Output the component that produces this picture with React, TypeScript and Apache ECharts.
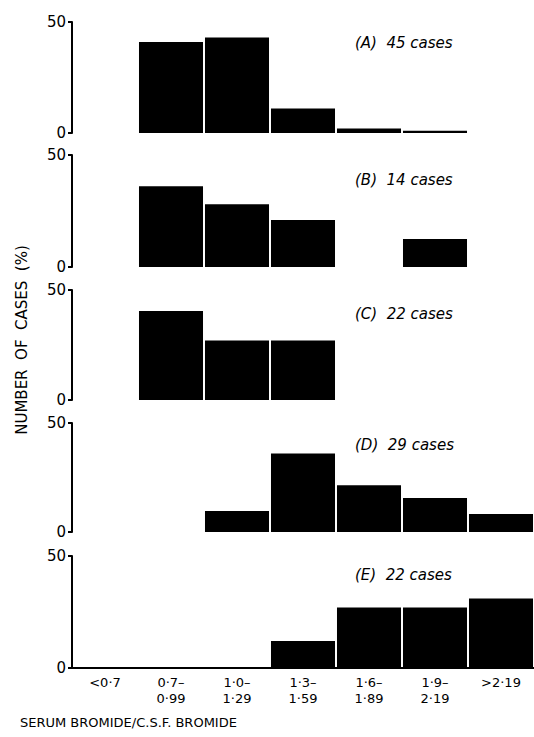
import React, { useEffect, useRef } from "react";
import * as echarts from "echarts";

const categories = ["<0·7", "0·7–\n0·99", "1·0–\n1·29", "1·3–\n1·59", "1·6–\n1·89", "1·9–\n2·19", ">2·19"];
const seriesA = [0, 41, 43, 11, 2, 1, 0];
const seriesB = [0, 36, 28, 21, 0, 12.5, 0];
const seriesC = [0, 40.5, 27, 27, 0, 0, 0];
const seriesD = [0, 0, 9.6, 36, 21.5, 15.6, 8.3];
const seriesE = [0, 0, 0, 12, 27, 27, 31];
const panelLabels = ["(A)  45 cases", "(B)  14 cases", "(C)  22 cases", "(D)  29 cases", "(E)  22 cases"];
const allSeries = [seriesA, seriesB, seriesC, seriesD, seriesE];

const grids = [
  { top: 22, height: 111 },
  { top: 155, height: 112 },
  { top: 290, height: 110 },
  { top: 423, height: 109 },
  { top: 556, height: 112 },
];
const labelY = [45, 182, 316, 447, 577];
const font = "'DejaVu Sans', sans-serif";

export default function App() {
  const ref = useRef<HTMLDivElement>(null);
  useEffect(() => {
    const chart = echarts.init(ref.current!, null, { renderer: "svg" });
    chart.setOption({
      animation: false,
      backgroundColor: "#fff",
      grid: grids.map((g) => ({ left: 72, width: 462, top: g.top, height: g.height })),
      xAxis: grids.map((_, i) => ({
        type: "category",
        gridIndex: i,
        data: categories,
        show: i === 4,
        axisLine: { lineStyle: { color: "#000", width: 2 } },
        axisTick: { inside: true, length: 5, lineStyle: { color: "#000", width: 2 } },
        axisLabel: { color: "#000", fontFamily: font, fontSize: 13, lineHeight: 16, margin: 6 },
      })),
      yAxis: grids.map((_, i) => ({
        type: "value",
        gridIndex: i,
        min: 0,
        max: 50,
        interval: 50,
        splitLine: { show: false },
        axisLine: { show: true, lineStyle: { color: "#000", width: 2 } },
        axisTick: { show: true, length: 4, lineStyle: { color: "#000", width: 2 } },
        axisLabel: { color: "#000", fontFamily: font, fontSize: 15, margin: 6 },
      })),
      series: allSeries.map((d, i) => ({
        type: "bar",
        xAxisIndex: i,
        yAxisIndex: i,
        data: d,
        barCategoryGap: "3%",
        itemStyle: { color: "#000" },
      })),
      graphic: [
        ...panelLabels.map((t, i) => ({
          type: "text",
          left: 355,
          top: labelY[i] - 10,
          style: { text: t, fill: "#000", font: `italic 15px ${font}` },
        })),
        {
          type: "text",
          x: 22,
          y: 340,
          rotation: Math.PI / 2,
          style: { text: "NUMBER  OF  CASES  (%)", fill: "#000", font: `15px ${font}`, align: "center", verticalAlign: "middle" },
        },
        {
          type: "text",
          left: 20,
          top: 716,
          style: { text: "SERUM BROMIDE/C.S.F. BROMIDE", fill: "#000", font: `13px ${font}` },
        },
      ],
    });
    return () => chart.dispose();
  }, []);
  return <div ref={ref} style={{ position: "fixed", left: 0, top: 0, width: 534, height: 737 }} />;
}
